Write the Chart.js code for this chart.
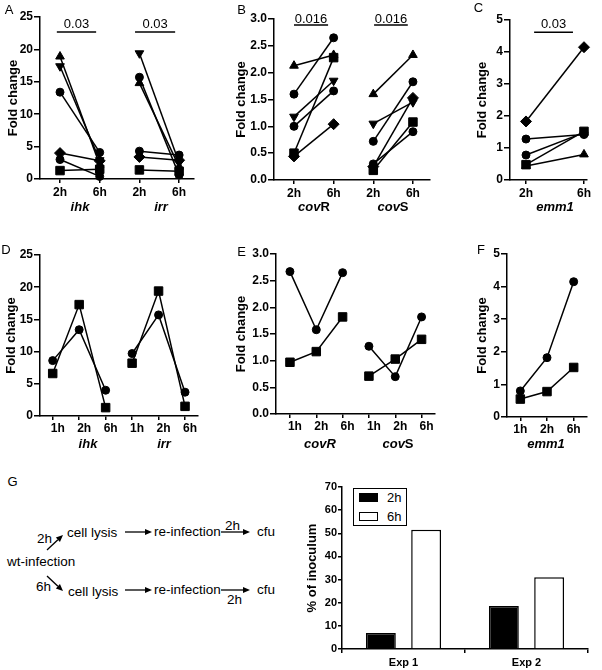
<!DOCTYPE html>
<html>
<head>
<meta charset="utf-8">
<script src="https://cdn.jsdelivr.net/npm/chart.js@4.4.0/dist/chart.umd.min.js"></script>
<style>
body{margin:0;background:#fff;width:602px;height:670px;position:relative;overflow:hidden;font-family:'Liberation Sans',Arial,sans-serif;color:#000}
canvas{position:absolute}
.lbl{position:absolute;font-size:13px;line-height:13px;transform:translate(-50%,-50%);white-space:nowrap}
.gene{font-weight:bold}
#gLegend{position:absolute;left:353px;top:488px;width:54px;height:38px;border:1.5px solid #000;box-sizing:border-box}
#gLegend .sw{position:absolute;left:5px;width:19px;height:9px;border:1.5px solid #000;box-sizing:border-box}
#gLegend .tx{position:absolute;left:33px;font-size:13px;line-height:13px}
svg{position:absolute;left:0;top:0}
</style>
</head>
<body>

<svg width="330" height="670" id="diagram"></svg>
<div id="gLegend"></div>

<script>
// data - panel A (2h / 6h, one row per symbol)
const aTimes = ['2h', '6h'];
const aSymbols = ['triangle', 'invTriangle', 'circle', 'rectRot', 'circle', 'rect'];
const aIhk = [[18.9, 2.2], [17.4, 2.9], [13.4, 4.1], [4.0, 2.8], [3.0, 0.4], [1.3, 1.5]];
const aIrr = [[14.8, 1.9], [19.4, 2.5], [15.7, 0.6], [3.4, 2.9], [4.3, 3.7], [1.4, 1.2]];

// panel B
const bSymbols = ['triangle', 'circle', 'invTriangle', 'circle', 'rect', 'rectRot'];
const bCovR = [[2.13, 2.33], [1.6, 2.65], [1.18, 1.85], [1.0, 1.66], [0.5, 2.28], [0.44, 1.04]];
const bCovS = [[1.6, 2.33], [0.72, 1.83], [1.05, 1.45], [0.3, 0.9], [0.18, 1.08], [0.25, 1.53]];

// panel C
const cSymbols = ['rectRot', 'circle', 'circle', 'rect', 'triangle'];
const cEmm1 = [[1.83, 4.15], [1.28, 1.42], [0.78, 1.48], [0.48, 1.52], [0.44, 0.8]];

// panels D, E, F (1h / 2h / 6h)
const dTimes = ['1h', '2h', '6h'];
const dSymbols = ['circle', 'rect'];
const dIhk = [[8.6, 13.4, 4.0], [6.6, 17.3, 1.3]];
const dIrr = [[9.7, 15.7, 3.7], [8.2, 19.4, 1.5]];
const eCovR = [[2.67, 1.58, 2.65], [0.97, 1.17, 1.82]];
const eCovS = [[1.27, 0.7, 1.82], [0.71, 1.03, 1.4]];
const fEmm1 = [[0.8, 1.82, 4.15], [0.55, 0.78, 1.52]];

// panel G
const gCats = ['Exp 1', 'Exp 2'];
const gSeries = ['2h', '6h'];
const g2h = [6.9, 18.6];
const g6h = [51.5, 31.0];

Chart.defaults.font.family = "'Liberation Sans', Arial, sans-serif";
Chart.defaults.color = '#000';
Chart.defaults.animation = false;

const PAD_TOP = 10, PAD_RIGHT = 12, X_H = 24;

function styleOf(sym) {
  if (sym === 'invTriangle') return {ps: 'triangle', rot: 180, r: 5};
  if (sym === 'triangle') return {ps: 'triangle', rot: 0, r: 5};
  if (sym === 'rect') return {ps: 'rect', rot: 0, r: 6};
  if (sym === 'rectRot') return {ps: 'rectRot', rot: 0, r: 5.5};
  return {ps: 'circle', rot: 0, r: 4};
}

// one dataset per row, placed at x = start, start+1, ...
function series(rows, symbols, start) {
  return rows.map((vals, i) => {
    const s = styleOf(symbols[i]);
    return {
      data: vals.map((v, j) => ({x: start + j, y: v})),
      borderColor: '#000', backgroundColor: '#000', borderWidth: 1.5,
      pointStyle: s.ps, pointRotation: s.rot, pointRadius: s.r,
      pointBorderWidth: 1, pointBackgroundColor: '#000', pointBorderColor: '#000',
      clip: false, tension: 0
    };
  });
}

function axisGrid(len) {
  return {drawOnChartArea: false, tickLength: len, color: '#000', lineWidth: 1.5};
}

function makeCanvas(p) {
  const left = Math.round(p.titleX - 7.8);
  const yW = p.axisX - left;
  const cv = document.createElement('canvas');
  cv.width = yW + (p.right - p.axisX) + PAD_RIGHT;
  cv.height = PAD_TOP + (p.y0 - p.yTop) + X_H;
  cv.style.left = left + 'px';
  cv.style.top = (p.yTop - PAD_TOP) + 'px';
  document.body.appendChild(cv);
  return {cv, yW};
}

function makePanel(p) {
  const {cv, yW} = makeCanvas(p);
  const sig = {
    id: 'sig',
    afterDatasetsDraw(chart) {
      const ctx = chart.ctx, xs = chart.scales.x, ys = chart.scales.y;
      (p.sig || []).forEach(b => {
        const x1 = xs.getPixelForValue(b.x1), x2 = xs.getPixelForValue(b.x2);
        const y = ys.getPixelForValue(b.y);
        ctx.save();
        ctx.strokeStyle = '#000';
        ctx.lineWidth = 1.5;
        ctx.beginPath();
        ctx.moveTo(x1, y);
        ctx.lineTo(x2, y);
        ctx.stroke();
        ctx.fillStyle = '#000';
        ctx.font = "13px 'Liberation Sans', Arial, sans-serif";
        ctx.textAlign = 'center';
        ctx.textBaseline = 'alphabetic';
        ctx.fillText(b.text, (x1 + x2) / 2, y - b.gap);
        ctx.restore();
      });
    }
  };
  new Chart(cv, {
    type: 'line',
    data: {datasets: p.datasets},
    options: {
      responsive: false,
      animation: false,
      layout: {padding: {top: PAD_TOP, right: PAD_RIGHT, left: 0, bottom: 0}},
      plugins: {legend: {display: false}, tooltip: {enabled: false}},
      scales: {
        x: {
          type: 'linear', min: p.xMin, max: p.xMax,
          afterBuildTicks: s => { s.ticks = p.xLabels.map((l, i) => ({value: i})); },
          afterFit: s => { s.height = X_H; },
          ticks: {
            callback: (v, i) => p.xLabels[i],
            font: {size: 12, weight: 'bold'},
            padding: p.tickPad, labelOffset: p.labelOffset,
            maxRotation: 0, autoSkip: false
          },
          grid: axisGrid(4),
          border: {color: '#000', width: 1.5}
        },
        y: {
          min: 0, max: p.yMax,
          afterFit: s => { s.width = yW; },
          ticks: {stepSize: p.yStep, callback: v => Number(v).toFixed(p.yDec), font: {size: 12, weight: 'bold'}, padding: 1},
          grid: axisGrid(6),
          border: {color: '#000', width: 1.5},
          title: {display: true, text: 'Fold change', font: {size: 13, weight: 'bold'}, padding: 0}
        }
      }
    },
    plugins: [sig]
  });
}

// top row
makePanel({
  axisX: 40, yTop: 17, y0: 179, right: 194, titleX: 14,
  yMax: 25, yStep: 5, yDec: 0, xMin: -0.504, xMax: 3.375,
  xLabels: aTimes.concat(aTimes), tickPad: 2, labelOffset: 0,
  datasets: series(aIhk, aSymbols, 0).concat(series(aIrr, aSymbols, 2)),
  sig: [{x1: -0.08, x2: 0.91, y: 22.7, text: '0.03', gap: 4}, {x1: 1.89, x2: 2.9, y: 22.7, text: '0.03', gap: 4}]
});
makePanel({
  axisX: 274, yTop: 19, y0: 180, right: 430, titleX: 242,
  yMax: 3, yStep: 0.5, yDec: 1, xMin: -0.504, xMax: 3.43,
  xLabels: aTimes.concat(aTimes), tickPad: 2, labelOffset: 0,
  datasets: series(bCovR, bSymbols, 0).concat(series(bCovS, bSymbols, 2)),
  sig: [{x1: 0, x2: 0.86, y: 2.89, text: '0.016', gap: 2}, {x1: 2.02, x2: 2.87, y: 2.89, text: '0.016', gap: 2}]
});
makePanel({
  axisX: 510, yTop: 20, y0: 180, right: 587, titleX: 483,
  yMax: 5, yStep: 1, yDec: 0, xMin: -0.276, xMax: 1.052,
  xLabels: aTimes, tickPad: 2, labelOffset: 0,
  datasets: series(cEmm1, cSymbols, 0),
  sig: [{x1: 0.14, x2: 0.81, y: 4.62, text: '0.03', gap: 4}]
});

// bottom row
makePanel({
  axisX: 40, yTop: 255, y0: 416, right: 198, titleX: 12,
  yMax: 25, yStep: 5, yDec: 0, xMin: -0.48, xMax: 5.49,
  xLabels: dTimes.concat(dTimes), tickPad: 1, labelOffset: 5,
  datasets: series(dIhk, dSymbols, 0).concat(series(dIrr, dSymbols, 3))
});
makePanel({
  axisX: 276, yTop: 254, y0: 414, right: 435, titleX: 242,
  yMax: 3, yStep: 0.5, yDec: 1, xMin: -0.53, xMax: 5.51,
  xLabels: dTimes.concat(dTimes), tickPad: 1, labelOffset: 5,
  datasets: series(eCovR, dSymbols, 0).concat(series(eCovS, dSymbols, 3))
});
makePanel({
  axisX: 507, yTop: 254, y0: 417, right: 587, titleX: 483,
  yMax: 5, yStep: 1, yDec: 0, xMin: -0.5, xMax: 2.5,
  xLabels: dTimes, tickPad: 1, labelOffset: 0,
  datasets: series(fEmm1, dSymbols, 0)
});

// panel G bar chart
(function () {
  const p = {axisX: 342, yTop: 487, y0: 649, right: 588, titleX: 313};
  const {cv, yW} = makeCanvas(p);
  new Chart(cv, {
    type: 'bar',
    data: {
      labels: gCats,
      datasets: [
        {label: gSeries[0], data: g2h, backgroundColor: '#000', borderColor: '#000', borderWidth: 1.5, categoryPercentage: 0.736, barPercentage: 0.66},
        {label: gSeries[1], data: g6h, backgroundColor: '#fff', borderColor: '#000', borderWidth: 1.5, categoryPercentage: 0.736, barPercentage: 0.66}
      ]
    },
    options: {
      responsive: false,
      animation: false,
      layout: {padding: {top: PAD_TOP, right: PAD_RIGHT, left: 0, bottom: 0}},
      plugins: {legend: {display: false}, tooltip: {enabled: false}},
      scales: {
        x: {
          afterFit: s => { s.height = X_H; },
          ticks: {font: {size: 11, weight: 'bold'}, padding: 3},
          grid: axisGrid(4),
          border: {color: '#000', width: 1.5}
        },
        y: {
          min: 0, max: 70,
          afterFit: s => { s.width = yW; },
          ticks: {stepSize: 10, font: {size: 11, weight: 'bold'}, padding: 1},
          grid: axisGrid(4),
          border: {color: '#000', width: 1.5},
          title: {display: true, text: '% of inoculum', font: {size: 13, weight: 'bold'}, padding: 0}
        }
      }
    }
  });
})();

// legend of G
const leg = document.getElementById('gLegend');
gSeries.forEach((name, i) => {
  const sw = document.createElement('div');
  sw.className = 'sw';
  sw.style.top = (4 + i * 19) + 'px';
  sw.style.background = i === 0 ? '#000' : '#fff';
  leg.appendChild(sw);
  const tx = document.createElement('div');
  tx.className = 'tx';
  tx.style.top = (2 + i * 19) + 'px';
  tx.textContent = name;
  leg.appendChild(tx);
});

// text labels
function addText(html, cx, cy, cls) {
  const d = document.createElement('div');
  d.className = 'lbl ' + (cls || '');
  d.style.left = cx + 'px';
  d.style.top = cy + 'px';
  d.innerHTML = html;
  document.body.appendChild(d);
}
addText('A', 9, 9); addText('B', 241.5, 9); addText('C', 478.5, 7);
addText('D', 6, 249); addText('E', 241.5, 251); addText('F', 481, 249);
addText('G', 12.5, 481);

addText('<i>ihk</i>', 80, 206, 'gene');
addText('<i>irr</i>', 161, 206, 'gene');
addText('<i>cov</i>R', 314, 206, 'gene');
addText('<i>cov</i>S', 393, 206, 'gene');
addText('<i>emm1</i>', 555, 206, 'gene');
addText('<i>ihk</i>', 88, 443, 'gene');
addText('<i>irr</i>', 164, 443, 'gene');
addText('<i>covR</i>', 320, 443, 'gene');
addText('<i>cov</i>S', 398, 443, 'gene');
addText('<i>emm1</i>', 546, 443, 'gene');

// G diagram
const svg = document.getElementById('diagram');
const NS = 'http://www.w3.org/2000/svg';
function svgText(t, x, y) {
  const e = document.createElementNS(NS, 'text');
  e.setAttribute('x', x);
  e.setAttribute('y', y);
  e.setAttribute('font-size', '13.5');
  e.setAttribute('font-family', "'Liberation Sans', Arial, sans-serif");
  e.textContent = t;
  svg.appendChild(e);
}
function arrow(x1, y1, x2, y2) {
  const a = Math.atan2(y2 - y1, x2 - x1), L = 7, W = 3;
  const bx = x2 - L * Math.cos(a), by = y2 - L * Math.sin(a);
  const ln = document.createElementNS(NS, 'line');
  ln.setAttribute('x1', x1); ln.setAttribute('y1', y1);
  ln.setAttribute('x2', bx); ln.setAttribute('y2', by);
  ln.setAttribute('stroke', '#000'); ln.setAttribute('stroke-width', '1.3');
  svg.appendChild(ln);
  const px = -Math.sin(a) * W, py = Math.cos(a) * W;
  const hd = document.createElementNS(NS, 'polygon');
  hd.setAttribute('points', `${x2},${y2} ${bx + px},${by + py} ${bx - px},${by - py}`);
  hd.setAttribute('fill', '#000');
  svg.appendChild(hd);
}
svgText('2h', 37, 543);
arrow(47, 550, 63, 535);
svgText('cell lysis', 67, 537);
arrow(125, 532, 152, 532);
svgText('re-infection', 154, 536);
svgText('2h', 225, 530);
arrow(221, 532, 250, 532);
svgText('cfu', 257, 536);
svgText('wt-infection', 7, 566);
svgText('6h', 36, 591);
arrow(47, 576, 63, 591);
svgText('cell lysis', 68, 596);
arrow(125, 590, 152, 590);
svgText('re-infection', 154, 594);
arrow(221, 590, 250, 590);
svgText('2h', 227, 604);
svgText('cfu', 257, 594);
</script>
</body>
</html>
